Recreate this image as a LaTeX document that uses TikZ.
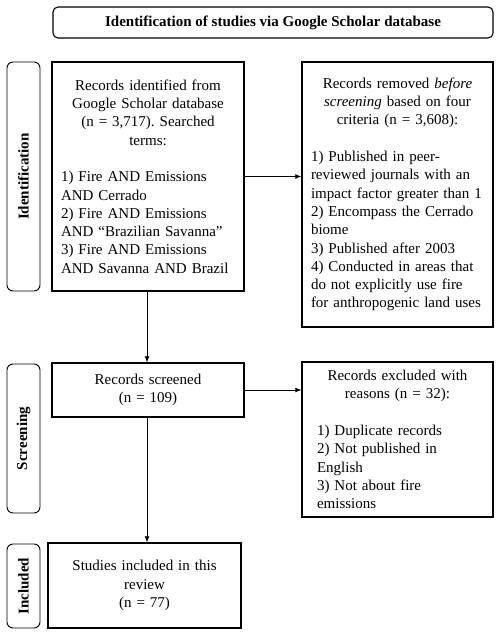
\documentclass[tikz,border=0pt]{standalone}
\usepackage{fontspec}
\setmainfont{Liberation Serif}
\usetikzlibrary{arrows.meta}
\frenchspacing
\begin{document}
\begin{tikzpicture}[x=1pt,y=-1pt,
  every node/.style={font=\fontsize{15}{18.3}\selectfont},
  box/.style={draw,line width=1.4pt,inner xsep=9pt,inner ysep=0pt,align=center},
  sidelab/.style={draw,line width=0.9pt,rounded corners=6pt,rotate=90,font=\fontsize{15}{18}\selectfont\bfseries,inner sep=0pt},
  arr/.style={line width=0.8pt,-{Latex[length=6pt,width=5pt]}}]
\useasboundingbox (0,0) rectangle (500,634);
\node[draw,line width=1.1pt,rounded corners=5pt,minimum width=440pt,minimum height=31pt,font=\fontsize{15}{18}\selectfont\bfseries] (title) at (273,22.5) {Identification of studies via Google Scholar database};
\node[sidelab,minimum width=229pt,minimum height=33pt] (idlab) at (23.5,176.5) {Identification};
\node[sidelab,minimum width=149pt,minimum height=33pt] (scrlab) at (23.5,438.5) {Screening};
\node[sidelab,minimum width=84pt,minimum height=33pt] (inclab) at (23.5,586) {Included};
\node[box,text width=174pt,minimum height=229pt] (b1) at (148,176.5) {\centering Records identified from\\Google Scholar database\\(n = 3,717). Searched\\terms:\par\vspace{18.3pt}\raggedright 1) Fire AND Emissions\\AND Cerrado\\2) Fire AND Emissions\\AND “Brazilian Savanna”\\3) Fire AND Emissions\\AND Savanna AND Brazil\par};
\node[box,text width=173pt,minimum height=265pt] (b2) at (397.5,194.5) {\centering Records removed \emph{before}\\\emph{screening} based on four\\criteria (n = 3,608):\par\vspace{18.3pt}\raggedright 1) Published in peer-\\reviewed journals with an\\impact factor greater than 1\\2) Encompass the Cerrado\\biome\\3) Published after 2003\\4) Conducted in areas that\\do not explicitly use fire\\for anthropogenic land uses\par};
\node[box,text width=174pt,minimum height=54pt] (b3) at (148,390) {Records screened\\(n = 109)};
\node[box,inner xsep=15pt,text width=161pt,minimum height=155pt] (b4) at (397.5,439.5) {\centering Records excluded with\\reasons (n = 32):\par\vspace{18.3pt}\raggedright 1) Duplicate records\\2) Not published in\\English\\3) Not about fire\\emissions\par};
\node[box,text width=175pt,minimum height=85pt] (b5) at (144.5,585.5) {Studies included in this\\review\\(n = 77)};
\draw[arr] (b1.east) -- (b1.east -| b2.west);
\draw[arr] (b3.east) -- (b3.east -| b4.west);
\draw[arr] ([xshift=-1pt]b1.south) -- ([xshift=-1pt]b3.north);
\draw[arr] ([xshift=-1pt]b3.south) -- ([xshift=-1pt]b3.south |- b5.north);
\end{tikzpicture}
\end{document}
